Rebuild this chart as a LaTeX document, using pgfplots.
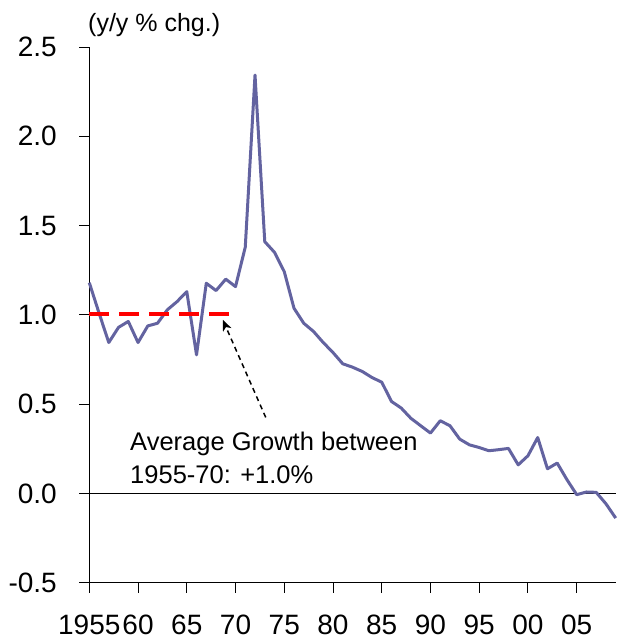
\documentclass[border=0pt]{standalone}
\usepackage{fontspec}
\setmainfont{Liberation Sans}
\usepackage{pgfplots}
\pgfplotsset{compat=1.18}
\usetikzlibrary{arrows.meta}
\definecolor{linecol}{RGB}{99,99,160}
\begin{document}
\begin{tikzpicture}
\useasboundingbox (-89.3pt,-58.3pt) rectangle (527.7pt,582.7pt);
\begin{axis}[
  at={(0,0)}, anchor=south west,
  scale only axis, width=526.4pt, height=535.7pt,
  xmin=1955, xmax=2009, ymin=-0.5, ymax=2.5,
  axis lines=left, axis line style={-, line width=1pt},
  xtick={1955,1960,...,2005},
  xticklabels={1955,60,65,70,75,80,85,90,95,00,05},
  ytick={-0.5,0,...,2.5},
  yticklabels={-0.5,0.0,0.5,1.0,1.5,2.0,2.5},
  tick align=outside, major tick length=10pt,
  tick style={black, line width=1pt},
  ticklabel style={font=\fontsize{28}{34}\selectfont, inner sep=0pt},
  yticklabel style={anchor=east, xshift=-22.3pt},
  xticklabel style={anchor=north, yshift=-22pt},
  clip=false,
]
% zero line
\addplot [black, line width=1pt] coordinates {(1955,0) (2009,0)};
% growth
\addplot [linecol, line width=3pt, line join=round] coordinates {
(1955,1.18) (1956,1.01) (1957,0.845) (1958,0.93) (1959,0.963) (1960,0.845)
(1961,0.938) (1962,0.953) (1963,1.028) (1964,1.074) (1965,1.13) (1966,0.776)
(1967,1.177) (1968,1.136) (1969,1.2) (1970,1.158) (1971,1.379) (1972,2.343)
(1973,1.41) (1974,1.35) (1975,1.242) (1976,1.037) (1977,0.953) (1978,0.907)
(1979,0.845) (1980,0.789) (1981,0.726) (1982,0.707) (1983,0.683) (1984,0.649)
(1985,0.623) (1986,0.515) (1987,0.478) (1988,0.42) (1989,0.379) (1990,0.338)
(1991,0.407) (1992,0.379) (1993,0.304) (1994,0.272) (1995,0.257) (1996,0.239)
(1997,0.245) (1998,0.252) (1999,0.16) (2000,0.211) (2001,0.313) (2002,0.138)
(2003,0.17) (2004,0.077) (2005,-0.007) (2006,0.008) (2007,0.006) (2008,-0.058)
(2009,-0.138)
};
% average 1955-70
\addplot [red, line width=3.3pt, dash pattern=on 20pt off 10pt] coordinates {(1955,1.005) (1969.3,1.005)};
\draw [black, line width=1.5pt, dash pattern=on 5pt off 4pt, -{Stealth[length=11pt, width=9pt, inset=3pt]}]
  (axis cs:1973.1,0.4255) -- (axis cs:1968.69,0.9726);
\node [anchor=base west, inner sep=0pt, font=\fontsize{25.5}{30}\selectfont] at (axis cs:1959.18,0.239) {Average Growth between};
\node [anchor=base west, inner sep=0pt, font=\fontsize{25.5}{30}\selectfont] at (axis cs:1959.18,0.056) {1955-70: +1.0\%};
\node [anchor=base west, inner sep=0pt, font=\fontsize{25}{30}\selectfont, xshift=-1.3pt, yshift=15.5pt] at (rel axis cs:0,1) {(y/y \% chg.)};
\end{axis}
\end{tikzpicture}
\end{document}
